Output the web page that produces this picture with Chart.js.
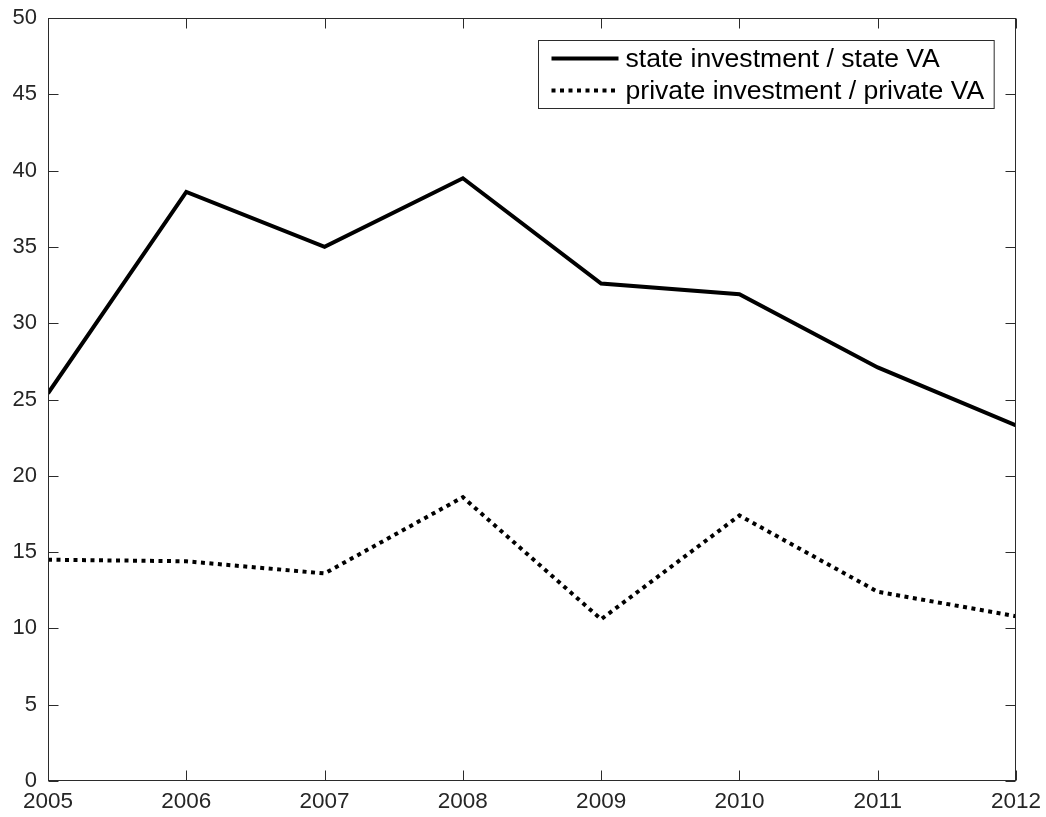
<!DOCTYPE html>
<html>
<head>
<meta charset="utf-8">
<script src="https://cdn.jsdelivr.net/npm/chart.js@4/dist/chart.umd.min.js"></script>
<style>
  html, body { margin: 0; padding: 0; background: #fff; }
  canvas { display: block; }
</style>
</head>
<body>
<canvas id="myCanvas" width="1046" height="817"></canvas>
<script>
const years = [2005, 2006, 2007, 2008, 2009, 2010, 2011, 2012]
const stateRatio = [25.4, 38.6, 35.0, 39.5, 32.6, 31.9, 27.1, 23.3]
const privateRatio = [14.5, 14.4, 13.6, 18.6, 10.6, 17.4, 12.4, 10.8]
const seriesLabels = ['state investment / state VA', 'private investment / private VA']
const yMin = 0, yMax = 50, yStep = 5

const axisColor = '#2b2b2b'
const fontFamily = '"Liberation Sans", Arial, Helvetica, sans-serif'

// MATLAB-ish box: frame + ticks pointing inward on all four sides, plus legend
const boxPlugin = {
    id: 'boxPlugin',
    afterDraw(chart) {
        const ctx = chart.ctx
        const area = chart.chartArea
        const xs = chart.scales.x
        const ys = chart.scales.y
        const tickLen = 10

        ctx.save()
        ctx.strokeStyle = axisColor
        ctx.lineWidth = 1
        const l = Math.round(area.left) + 0.5
        const r = Math.round(area.right) - 0.5
        const t = Math.round(area.top) + 0.5
        const b = Math.round(area.bottom) - 0.5
        ctx.strokeRect(l, t, r - l, b - t)

        ctx.beginPath()
        xs.ticks.forEach(tk => {
            const px = Math.round(xs.getPixelForValue(tk.value)) + 0.5
            ctx.moveTo(px, b); ctx.lineTo(px, b - tickLen)
            ctx.moveTo(px, t); ctx.lineTo(px, t + tickLen)
        })
        ys.ticks.forEach(tk => {
            const py = Math.round(ys.getPixelForValue(tk.value)) + 0.5
            ctx.moveTo(l, py); ctx.lineTo(l + tickLen, py)
            ctx.moveTo(r, py); ctx.lineTo(r - tickLen, py)
        })
        ctx.stroke()

        // legend
        ctx.font = '26.6px ' + fontFamily
        const sets = chart.data.datasets
        let textW = 0
        sets.forEach(ds => { textW = Math.max(textW, ctx.measureText(ds.label).width) })
        const rowH = 32
        const sampleW = 67
        const boxW = 13 + sampleW + 7 + textW + 10
        const boxH = rowH * sets.length + 4
        const bx = Math.round(area.right - 22 - boxW) + 0.5
        const by = Math.round(area.top + 22) + 0.5

        ctx.fillStyle = '#fff'
        ctx.fillRect(bx, by, boxW, boxH)
        ctx.strokeStyle = axisColor
        ctx.lineWidth = 1
        ctx.strokeRect(bx, by, boxW, boxH)

        sets.forEach((ds, i) => {
            const cy = by + 2 + rowH * i + rowH / 2
            ctx.strokeStyle = ds.borderColor
            ctx.lineWidth = ds.borderWidth
            ctx.setLineDash(ds.borderDash || [])
            ctx.beginPath()
            ctx.moveTo(bx + 13, cy)
            ctx.lineTo(bx + 13 + sampleW, cy)
            ctx.stroke()
            ctx.setLineDash([])
            ctx.fillStyle = '#000'
            ctx.textBaseline = 'middle'
            ctx.textAlign = 'left'
            ctx.fillText(ds.label, bx + 13 + sampleW + 7, cy + 1)
        })
        ctx.restore()
    }
}

const ctx = document.getElementById('myCanvas').getContext('2d')

// hidden tick marks give the label gap without adding to the layout padding
const hiddenGrid = (len) => ({
    display: true,
    drawOnChartArea: false,
    drawTicks: true,
    tickLength: len,
    color: 'rgba(0,0,0,0)'
})

new Chart(ctx, {
    type: 'line',
    data: {
        datasets: [
            {
                label: seriesLabels[0],
                data: years.map((yr, i) => ({ x: yr, y: stateRatio[i] })),
                borderColor: '#000',
                borderWidth: 4,
                pointRadius: 0,
                tension: 0,
                fill: false
            },
            {
                label: seriesLabels[1],
                data: years.map((yr, i) => ({ x: yr, y: privateRatio[i] })),
                borderColor: '#000',
                borderWidth: 4,
                borderDash: [4, 4.5],
                borderCapStyle: 'butt',
                pointRadius: 0,
                tension: 0,
                fill: false
            }
        ]
    },
    options: {
        responsive: false,
        animation: false,
        layout: { padding: { left: 0, top: 18, right: 30, bottom: 0 } },
        plugins: {
            legend: { display: false },
            tooltip: { enabled: false }
        },
        scales: {
            x: {
                type: 'linear',
                min: years[0],
                max: years[years.length - 1],
                ticks: {
                    stepSize: 1,
                    color: '#262626',
                    padding: 0,
                    maxRotation: 0,
                    font: { family: fontFamily, size: 22.5 },
                    callback: v => String(v)
                },
                grid: hiddenGrid(7),
                border: { display: false },
                afterFit(scale) { scale.height = 36 }
            },
            y: {
                min: yMin,
                max: yMax,
                ticks: {
                    stepSize: yStep,
                    color: '#262626',
                    padding: 0,
                    font: { family: fontFamily, size: 22 }
                },
                grid: hiddenGrid(11),
                border: { display: false },
                afterFit(scale) { scale.width = 48 }
            }
        }
    },
    plugins: [boxPlugin]
})
</script>
</body>
</html>
